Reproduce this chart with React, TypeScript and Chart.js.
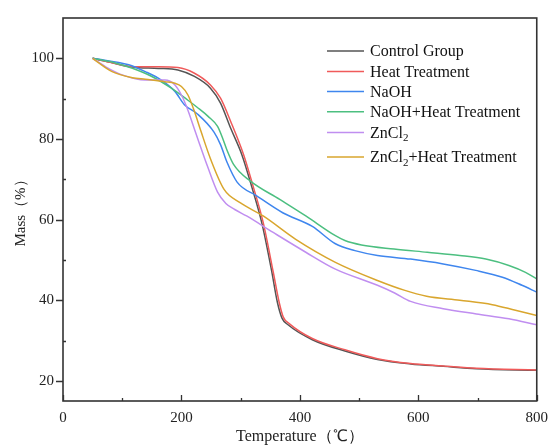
import React, { useEffect, useRef } from "react";
import { Chart, registerables } from "chart.js";
Chart.register(...registerables);

const controlT = [50, 80, 117, 161, 194, 222, 249, 266, 283, 302, 319, 336, 352, 362, 370, 380, 421, 476, 531, 587, 642, 698, 800];
const controlM = [100, 99.0, 97.8, 97.5, 97.1, 95.5, 92.6, 88.9, 82.7, 76.1, 68.0, 59.0, 47.5, 39.5, 35.5, 33.9, 30.2, 27.4, 25.3, 24.2, 23.6, 23.0, 22.6];

const heatT = [50, 80, 117, 161, 194, 222, 249, 266, 283, 305, 321, 338, 355, 365, 372, 382, 421, 476, 531, 587, 642, 698, 800];
const heatM = [100, 99.0, 97.9, 97.9, 97.7, 96.3, 93.4, 90.1, 84.4, 76.1, 68.3, 59.3, 47.0, 39.5, 35.8, 34.2, 30.5, 27.7, 25.5, 24.3, 23.7, 23.1, 22.7];

const naohT = [50, 111, 139, 166, 189, 205, 227, 255, 266, 277, 294, 327, 371, 421, 460, 493, 531, 587, 642, 697, 742, 775, 800];
const naohM = [100, 98.4, 96.7, 94.6, 91.8, 88.5, 86.2, 81.7, 78.6, 74.2, 69.3, 65.9, 61.7, 58.3, 54.0, 52.3, 51.1, 50.2, 49.0, 47.4, 45.7, 43.7, 42.0];

const naohHeatT = [50, 89, 116, 150, 183, 211, 227, 245, 261, 270, 277, 288, 316, 366, 410, 460, 476, 504, 559, 615, 670, 714, 753, 781, 800];
const naohHeatM = [100, 98.8, 97.6, 95.5, 92.6, 89.6, 87.8, 85.6, 83.1, 80.0, 77.2, 73.7, 69.6, 65.0, 60.9, 56.0, 54.8, 53.7, 52.7, 51.9, 51.1, 50.2, 48.6, 46.9, 45.3];

const zncl2T = [50, 72, 100, 139, 172, 189, 200, 210, 220, 230, 244, 261, 275, 290, 310, 355, 410, 460, 531, 560, 587, 642, 698, 753, 800];
const zncl2M = [100, 97.9, 95.9, 94.6, 94.6, 93.4, 90.9, 87.5, 83.3, 79.0, 73.2, 66.8, 64.0, 62.5, 60.9, 56.8, 51.9, 47.7, 43.7, 41.8, 39.7, 37.9, 36.6, 35.4, 33.9];

const zncl2HeatT = [50, 83, 117, 139, 172, 189, 200, 211, 222, 233, 249, 272, 299, 338, 393, 460, 531, 576, 614, 670, 725, 764, 800];
const zncl2HeatM = [100, 96.7, 95.2, 94.8, 94.2, 93.8, 93.0, 90.9, 86.8, 81.9, 75.1, 67.5, 64.2, 60.9, 55.1, 49.4, 44.9, 42.5, 41.0, 40.0, 38.9, 37.5, 36.2];

const seriesLabels = ["Control Group", "Heat Treatment", "NaOH", "NaOH+Heat Treatment", "ZnCl2", "ZnCl2+Heat Treatment"];
const seriesColors = ["#555555", "#f05a5a", "#3f86ee", "#4cbf80", "#c08ef0", "#d9a62e"];
const seriesT = [controlT, heatT, naohT, naohHeatT, zncl2T, zncl2HeatT];
const seriesM = [controlM, heatM, naohM, naohHeatM, zncl2M, zncl2HeatM];

const yTicks = [20, 40, 60, 80, 100];
const yMinor = [30, 50, 70, 90];
const xTicks = [0, 200, 400, 600, 800];
const xMinor = [100, 300, 500, 700];

const FONT = "'Liberation Serif', 'Times New Roman', serif";

const framePlugin = {
  id: "frame",
  afterDraw(chart: any) {
    const { ctx, chartArea: a, scales } = chart;
    const xs = scales.x, ys = scales.y;
    ctx.save();
    ctx.strokeStyle = "#333";
    ctx.lineWidth = 1.6;
    ctx.strokeRect(a.left, a.top, a.right - a.left, a.bottom - a.top);
    ctx.lineWidth = 1.3;
    ctx.beginPath();
    yTicks.forEach((v) => {
      const y = Math.round(ys.getPixelForValue(v)) + 0.5;
      ctx.moveTo(a.left - 7, y);
      ctx.lineTo(a.left, y);
    });
    yMinor.forEach((v) => {
      const y = Math.round(ys.getPixelForValue(v)) + 0.5;
      ctx.moveTo(a.left, y);
      ctx.lineTo(a.left + 3, y);
    });
    xTicks.forEach((v) => {
      const x = Math.round(xs.getPixelForValue(v)) + 0.5;
      ctx.moveTo(x, a.bottom);
      ctx.lineTo(x, a.bottom - 6);
    });
    xMinor.forEach((v) => {
      const x = Math.round(xs.getPixelForValue(v)) + 0.5;
      ctx.moveTo(x, a.bottom);
      ctx.lineTo(x, a.bottom - 3);
    });
    ctx.stroke();

    // legend
    const rowsY = [51, 71.5, 91.5, 111.7, 132.5, 157];
    const lx0 = 327, lx1 = 364, tx = 370;
    ctx.textBaseline = "middle";
    ctx.textAlign = "left";
    seriesLabels.forEach((label, i) => {
      const y = rowsY[i];
      ctx.strokeStyle = seriesColors[i];
      ctx.lineWidth = 1.6;
      ctx.beginPath();
      ctx.moveTo(lx0, y);
      ctx.lineTo(lx1, y);
      ctx.stroke();
      ctx.fillStyle = "#111";
      const ty = y + 1;
      if (label.startsWith("ZnCl2")) {
        ctx.font = `16px ${FONT}`;
        ctx.fillText("ZnCl", tx, ty);
        let x = tx + ctx.measureText("ZnCl").width;
        ctx.font = `11px ${FONT}`;
        ctx.fillText("2", x, ty + 5);
        x += ctx.measureText("2").width;
        ctx.font = `16px ${FONT}`;
        ctx.fillText(label.slice(5), x, ty);
      } else {
        ctx.font = `16px ${FONT}`;
        ctx.fillText(label, tx, ty);
      }
    });
    ctx.restore();
  },
};

export default function App() {
  const ref = useRef<HTMLCanvasElement | null>(null);
  useEffect(() => {
    document.body.style.margin = "0";
    const datasets = seriesLabels.map((label, i) => ({
      label,
      data: seriesT[i].map((t, j) => ({ x: t, y: seriesM[i][j] })),
      borderColor: seriesColors[i],
      backgroundColor: seriesColors[i],
      borderWidth: 1.5,
      pointRadius: 0,
      fill: false,
      cubicInterpolationMode: "monotone" as const,
      order: 6 - i,
    }));
    const chart = new Chart(ref.current as HTMLCanvasElement, {
      type: "line",
      data: { datasets },
      options: {
        animation: false,
        responsive: false,
        maintainAspectRatio: false,
        layout: { padding: { top: 15, right: 13, left: 0, bottom: 0 } },
        plugins: { legend: { display: false }, tooltip: { enabled: false } },
        scales: {
          x: {
            type: "linear",
            min: 0,
            max: 800,
            grid: { display: false, drawTicks: false },
            border: { display: false },
            ticks: { stepSize: 200, color: "#222", padding: 8, font: { family: FONT, size: 15 }, maxRotation: 0 },
            title: { display: true, text: "Temperature（℃）", color: "#222", font: { family: FONT, size: 16 }, padding: { top: 0, bottom: 0 } },
            afterFit: (s: any) => { s.height = 45; },
          },
          y: {
            type: "linear",
            min: 15,
            max: 110,
            grid: { display: false, drawTicks: false },
            border: { display: false },
            afterBuildTicks: (s: any) => { s.ticks = yTicks.map((v) => ({ value: v })); },
            ticks: { color: "#222", padding: 9, font: { family: FONT, size: 15 } },
            title: { display: true, text: "Mass（%）", color: "#222", font: { family: FONT, size: 15 }, padding: { top: 12, bottom: 0 } },
            afterFit: (s: any) => { s.width = 63; },
          },
        },
      },
      plugins: [framePlugin],
    });
    return () => chart.destroy();
  }, []);
  return (
    <div style={{ position: "absolute", left: 0, top: 0, width: 556, height: 446, background: "#fff" }}>
      <canvas ref={ref} width={556} height={446} />
    </div>
  );
}
